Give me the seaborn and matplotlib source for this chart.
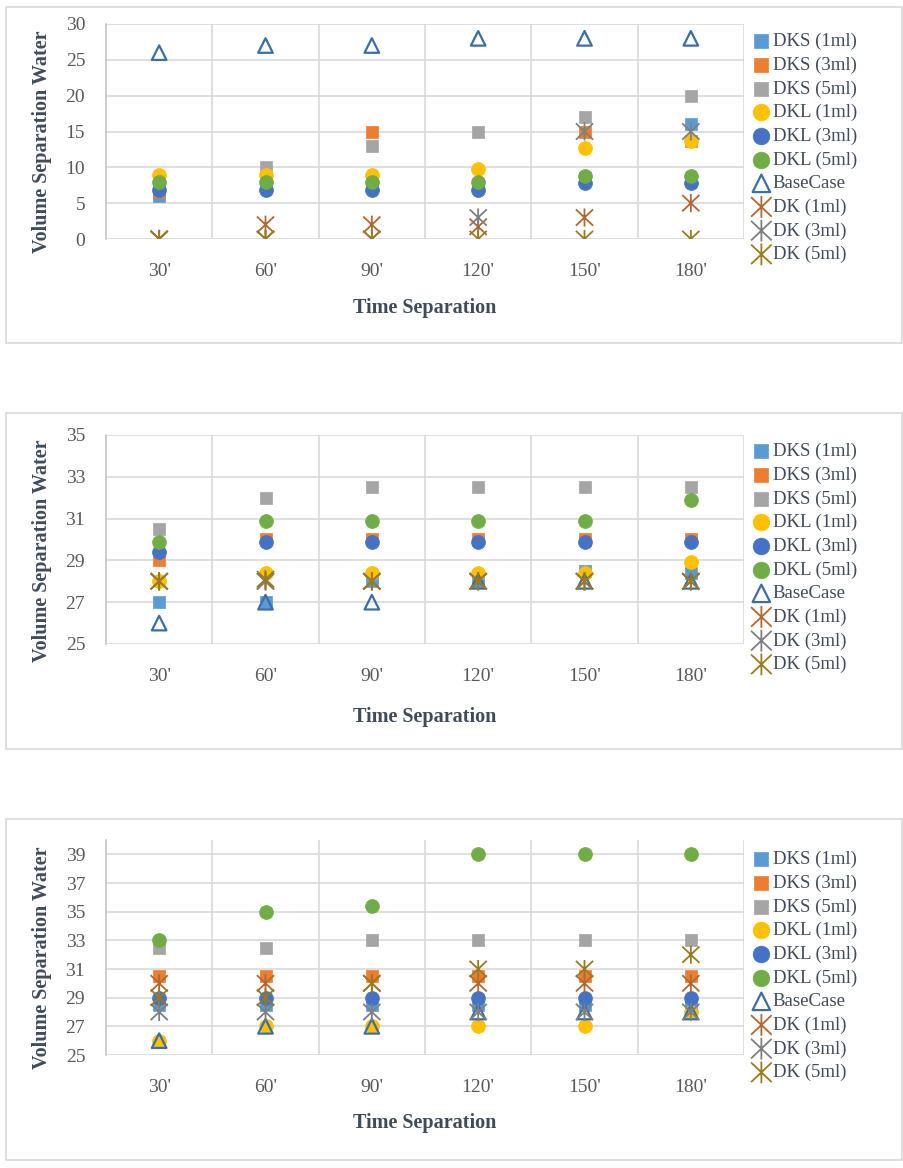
"""
Scatter panels of separated water volume against time separation.
"""

import matplotlib
matplotlib.use('Agg')
import matplotlib.pyplot as plt
from matplotlib.patches import Rectangle
from matplotlib.path import Path
import pandas as pd
import seaborn as sns

times = ["30'", "60'", "90'", "120'", "150'", "180'"]
series = ['DKS (1ml)', 'DKS (3ml)', 'DKS (5ml)', 'DKL (1ml)', 'DKL (3ml)',
          'DKL (5ml)', 'BaseCase', 'DK (1ml)', 'DK (3ml)', 'DK (5ml)']

# Panel 1
p1_dks1 = [6, 7.5, 7.5, 7.5, 8.5, 16]
p1_dks3 = [6.5, 7.5, 15, 7.5, 15, 13.7]
p1_dks5 = [8, 10, 13, 15, 17, 20]
p1_dkl1 = [9, 9, 9, 9.8, 12.7, 13.7]
p1_dkl3 = [6.8, 6.8, 6.8, 6.8, 7.8, 7.8]
p1_dkl5 = [7.9, 7.9, 7.9, 7.9, 8.8, 8.8]
p1_base = [26, 27, 27, 28, 28, 28]
p1_dk1 = [0, 2, 2, 1.7, 3, 5]
p1_dk3 = [0, 0, 0, 3, 15, 15]
p1_dk5 = [0, 0, 0, 0, 0, 0]

# Panel 2
p2_dks1 = [27, 27, 28, 28, 28.5, 28.4]
p2_dks3 = [29, 30, 30, 30, 30, 30]
p2_dks5 = [30.5, 32, 32.5, 32.5, 32.5, 32.5]
p2_dkl1 = [28, 28.4, 28.4, 28.4, 28.4, 28.9]
p2_dkl3 = [29.4, 29.9, 29.9, 29.9, 29.9, 29.9]
p2_dkl5 = [29.9, 30.9, 30.9, 30.9, 30.9, 31.9]
p2_base = [26, 27, 27, 28, 28, 28]
p2_dk1 = [28, 28, 28, 28, 28, 28]
p2_dk3 = [28, 28, 28, 28, 28, 28]
p2_dk5 = [28, 28.1, 28, 28, 28, 28]

# Panel 3
p3_dks1 = [28.5, 28.5, 28.5, 28.5, 28.5, 28.5]
p3_dks3 = [30.5, 30.5, 30.5, 30.5, 30.5, 30.5]
p3_dks5 = [32.5, 32.5, 33, 33, 33, 33]
p3_dkl1 = [26, 27, 27, 27, 27, 28]
p3_dkl3 = [29, 29, 29, 29, 29, 29]
p3_dkl5 = [33, 35, 35.4, 39, 39, 39]
p3_base = [26, 27, 27, 28, 28, 28]
p3_dk1 = [30, 30, 30, 30, 30, 30]
p3_dk3 = [28, 28, 28, 28, 28, 28]
p3_dk5 = [29, 29, 30, 31, 31, 32]

panels = [
    [p1_dks1, p1_dks3, p1_dks5, p1_dkl1, p1_dkl3, p1_dkl5, p1_base, p1_dk1, p1_dk3, p1_dk5],
    [p2_dks1, p2_dks3, p2_dks5, p2_dkl1, p2_dkl3, p2_dkl5, p2_base, p2_dk1, p2_dk3, p2_dk5],
    [p3_dks1, p3_dks3, p3_dks5, p3_dkl1, p3_dkl3, p3_dkl5, p3_base, p3_dk1, p3_dk3, p3_dk5],
]
ylims = [(0, 30), (25, 35), (25, 40)]
yticks = [list(range(0, 31, 5)), list(range(25, 36, 2)), list(range(25, 40, 2))]

# Excel-style star: vertical bar plus an X
star = Path([(0, -1), (0, 1), (-0.95, -0.9), (0.95, 0.9), (-0.95, 0.9), (0.95, -0.9)],
            [Path.MOVETO, Path.LINETO, Path.MOVETO, Path.LINETO, Path.MOVETO, Path.LINETO])

styles = {
    'DKS (1ml)': dict(marker='s', color='#5B9BD5', s=78, kind='fill'),
    'DKS (3ml)': dict(marker='s', color='#ED7D31', s=78, kind='fill'),
    'DKS (5ml)': dict(marker='s', color='#A5A5A5', s=78, kind='fill'),
    'DKL (1ml)': dict(marker='o', color='#FFC000', s=100, kind='fill'),
    'DKL (3ml)': dict(marker='o', color='#4472C4', s=100, kind='fill'),
    'DKL (5ml)': dict(marker='o', color='#70AD47', s=100, kind='fill'),
    'BaseCase': dict(marker='^', color='#3A6EA5', s=110, kind='open'),
    'DK (1ml)': dict(marker=star, color='#B4662F', s=170, kind='line'),
    'DK (3ml)': dict(marker=star, color='#7F7F7F', s=170, kind='line'),
    'DK (5ml)': dict(marker=star, color='#9C7A1C', s=170, kind='line'),
}

W, H = 904, 1168
axes_px = [(106, 24, 744, 239), (106, 435, 744, 644), (106, 840, 744, 1055)]
box_px = [(6, 7, 902, 343), (6, 413, 902, 749), (6, 819, 902, 1160)]
legend_top = [33, 443, 851]
xlabel_y = [308, 717, 1123]
ylabel_y = [142, 551, 958]

text_color = '#404B5A'
grid_color = '#D9D9D9'

sns.set_theme(style='white')
plt.rcParams['font.family'] = ['Liberation Serif', 'DejaVu Serif']

fig = plt.figure(figsize=(W / 100, H / 100), dpi=100)

for i, values in enumerate(panels):
    bx0, by0, bx1, by1 = box_px[i]
    fig.add_artist(Rectangle((bx0 / W, 1 - by1 / H), (bx1 - bx0) / W, (by1 - by0) / H,
                             transform=fig.transFigure, fill=False,
                             edgecolor=grid_color, lw=1.2))

    x0, y0, x1, y1 = axes_px[i]
    ax = fig.add_axes([x0 / W, 1 - y1 / H, (x1 - x0) / W, (y1 - y0) / H])

    df = pd.DataFrame({'time': times * len(series),
                       'series': [s for s in series for _ in times],
                       'value': [v for vals in values for v in vals]})

    for name in series:
        st = styles[name]
        sub = df[df['series'] == name]
        if st['kind'] == 'fill':
            sns.scatterplot(data=sub, x='time', y='value', ax=ax, marker=st['marker'],
                            color=st['color'], s=st['s'], edgecolor=st['color'],
                            linewidth=0.5, label=name, zorder=3)
        elif st['kind'] == 'open':
            sns.scatterplot(data=sub, x='time', y='value', ax=ax, marker=st['marker'],
                            color=st['color'], s=st['s'], facecolors='none',
                            edgecolor=st['color'], linewidth=1.6, label=name, zorder=3)
        else:
            sns.scatterplot(data=sub, x='time', y='value', ax=ax, marker=st['marker'],
                            color=st['color'], s=st['s'], facecolors='none',
                            edgecolor=st['color'], linewidth=1.3, label=name, zorder=3)

    ax.set_xlim(-0.5, 5.5)
    ax.set_ylim(*ylims[i])
    ax.set_xticks(range(len(times)))
    ax.set_xticklabels(times)
    ax.set_xticks([k + 0.5 for k in range(len(times))], minor=True)
    ax.set_yticks(yticks[i])
    ax.yaxis.grid(True, color=grid_color, lw=1.2)
    ax.xaxis.grid(True, which='minor', color=grid_color, lw=1.2)
    ax.xaxis.grid(False, which='major')
    ax.set_axisbelow(True)
    ax.tick_params(axis='both', which='both', length=0, labelsize=14, colors='#595959')
    ax.tick_params(axis='x', pad=17)
    ax.tick_params(axis='y', pad=15)
    for side in ['top', 'right', 'bottom']:
        ax.spines[side].set_visible(False)
    ax.spines['left'].set_color('#BCC6D4')
    ax.spines['left'].set_linewidth(1.2)
    ax.set_xlabel('')
    ax.set_ylabel('')

    leg = ax.legend(loc='upper left', bbox_to_anchor=(752 / W, 1 - legend_top[i] / H),
                    bbox_transform=fig.transFigure, frameon=False, fontsize=13.5,
                    handlelength=1.0, handletextpad=0.1, labelspacing=0.34,
                    borderpad=0, borderaxespad=0, scatterpoints=1, markerscale=1.2)
    for t in leg.get_texts():
        t.set_color(text_color)

    fig.text(424.5 / W, 1 - xlabel_y[i] / H, 'Time Separation', ha='center', va='center',
             fontsize=14.5, fontweight='bold', color=text_color)
    fig.text(42 / W, 1 - ylabel_y[i] / H, 'Volume Separation Water', ha='center',
             va='center', rotation=90, fontsize=14.5, fontweight='bold', color=text_color)

fig.savefig('out.png', dpi=100, facecolor='white')
